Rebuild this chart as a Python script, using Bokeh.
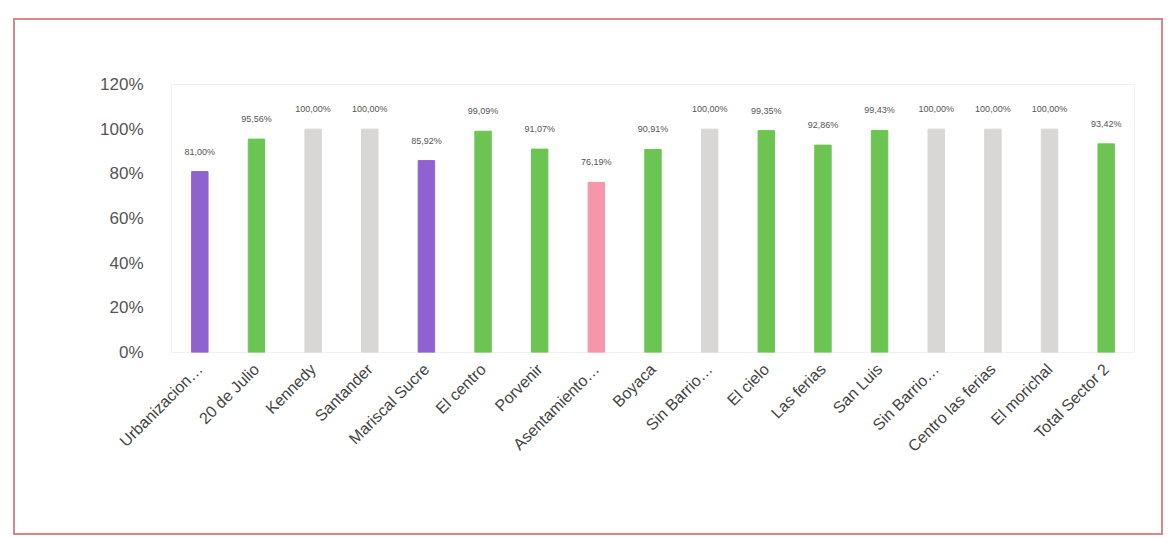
from bokeh.plotting import figure
from bokeh.models import ColumnDataSource, FixedTicker, Range1d, NumeralTickFormatter, LabelSet
from bokeh.core.properties import value
from bokeh.embed import file_html
from bokeh.resources import INLINE

categories = ["Urbanizacion…", "20 de Julio", "Kennedy", "Santander", "Mariscal Sucre",
              "El centro", "Porvenir", "Asentamiento…", "Boyaca", "Sin Barrio…",
              "El cielo", "Las ferias", "San Luis", "Sin Barrio…", "Centro las ferias",
              "El morichal", "Total Sector 2"]
values = [0.8100, 0.9556, 1.0000, 1.0000, 0.8592, 0.9909, 0.9107, 0.7619, 0.9091, 1.0000,
          0.9935, 0.9286, 0.9943, 1.0000, 1.0000, 1.0000, 0.9342]
groups = ["purple", "green", "grey", "grey", "purple", "green", "green", "pink", "green", "grey",
          "green", "green", "green", "grey", "grey", "grey", "green"]
palette = {"purple": "#8f63cf", "green": "#6cc552", "grey": "#d9d6d6", "pink": "#f596aa"}

xs = list(range(len(categories)))
labels = [("%.2f%%" % (v * 100)).replace(".", ",") for v in values]
src = ColumnDataSource(dict(x=xs, top=values, color=[palette[g] for g in groups], label=labels))

p = figure(width=1150, height=517, output_backend="svg", toolbar_location=None,
           x_range=Range1d(-0.5, len(categories) - 0.5), y_range=Range1d(0, 1.2),
           min_border_left=156, min_border_right=31, min_border_top=64, min_border_bottom=185)
p.margin = (18, 0, 0, 13)
p.styles = {"border": "2px solid #d9868a"}
p.outline_line_color = "#f0f0f0"
p.background_fill_color = "white"
p.border_fill_color = "white"
p.xgrid.visible = False
p.ygrid.visible = False

p.vbar(x="x", top="top", width=0.29, color="color", source=src)
p.add_layout(LabelSet(x="x", y="top", text="label", source=src, text_align="center",
                      text_baseline="bottom", y_offset=15, text_font_size="9px",
                      text_color="#555555", text_font=value("Liberation Sans")))

p.xaxis.ticker = FixedTicker(ticks=xs)
p.xaxis.major_label_overrides = {i: c for i, c in enumerate(categories)}
p.xaxis.major_label_orientation = 0.785398
p.xaxis.major_label_text_font_size = "16px"
p.xaxis.major_label_text_color = "#444444"
p.xaxis.major_label_text_font = "Liberation Sans"
p.xaxis.major_label_standoff = 8
p.yaxis.ticker = FixedTicker(ticks=[0, 0.2, 0.4, 0.6, 0.8, 1.0, 1.2])
p.yaxis.formatter = NumeralTickFormatter(format="0%")
p.yaxis.major_label_text_font_size = "17px"
p.yaxis.major_label_text_color = "#555555"
p.yaxis.major_label_text_font = "Liberation Sans"
p.yaxis.major_label_standoff = 22
for ax in (p.xaxis, p.yaxis):
    ax.axis_line_color = None
    ax.major_tick_line_color = None
    ax.minor_tick_line_color = None

open("out.html", "w").write(file_html(p, INLINE))
